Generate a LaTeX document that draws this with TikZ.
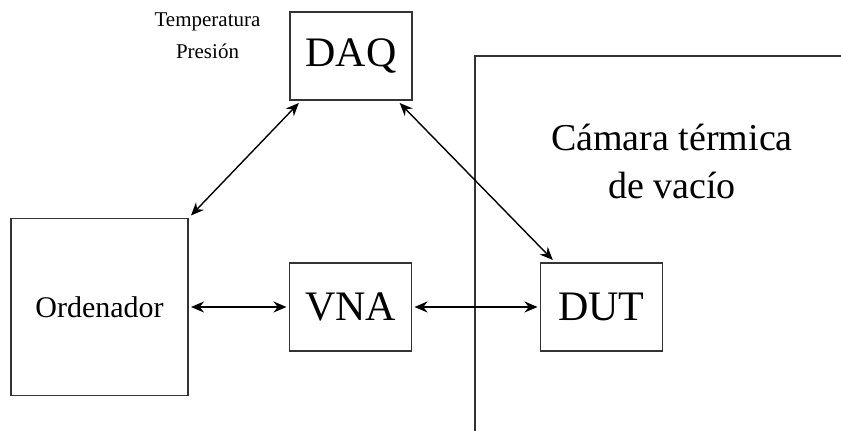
\documentclass[tikz,border=0pt]{standalone}
\usepackage{fontspec}
\setmainfont{Liberation Serif}
\usepackage{tikz}
\usetikzlibrary{arrows.meta}

\begin{document}
\begin{tikzpicture}[x=0.5pt, y=-0.5pt,
    block/.style={draw=black!80, line width=0.9pt, inner sep=0pt, outer sep=1.5pt,
      minimum width=61pt, minimum height=44pt},
    link/.style={{Stealth[length=6.5pt,width=5.5pt]}-{Stealth[length=6.5pt,width=5.5pt]}, line width=0.7pt}]
          \useasboundingbox (0, 0) rectangle (841, 431);
          % camara termica: only its left and top walls are seen
          \draw [draw=black!80, line width=0.9pt] (475, 440) |- (850, 56);
          \node [align=center, font=\fontsize{19}{24}\selectfont] (cam) at (672, 161) {C\'amara t\'ermica\\de vac\'io};
          \node [align=center, font=\fontsize{10.5}{16}\selectfont] (sens) at (207.5, 36) {Temperatura\\Presi\'on};
          \node [block, font=\fontsize{21}{25}\selectfont] (daq) at (351, 56) {DAQ};
          \node [block, font=\fontsize{21}{25}\selectfont] (vna) at (350.5, 307) {VNA};
          \node [block, font=\fontsize{21}{25}\selectfont] (dut) at (601.5, 307) {DUT};
          \node [block, minimum width=88.5pt, minimum height=88.5pt, font=\fontsize{15}{18}\selectfont] (ord) at (99.5, 307) {Ordenador};
          \draw [link] (daq.222.5) -- (ord.north east);
          \draw [link] (daq.316) -- (dut.136.6);
          \draw [link] (ord.east) -- (vna.west);
          \draw [link] (vna.east) -- (dut.west);
        \end{tikzpicture}
\end{document}
